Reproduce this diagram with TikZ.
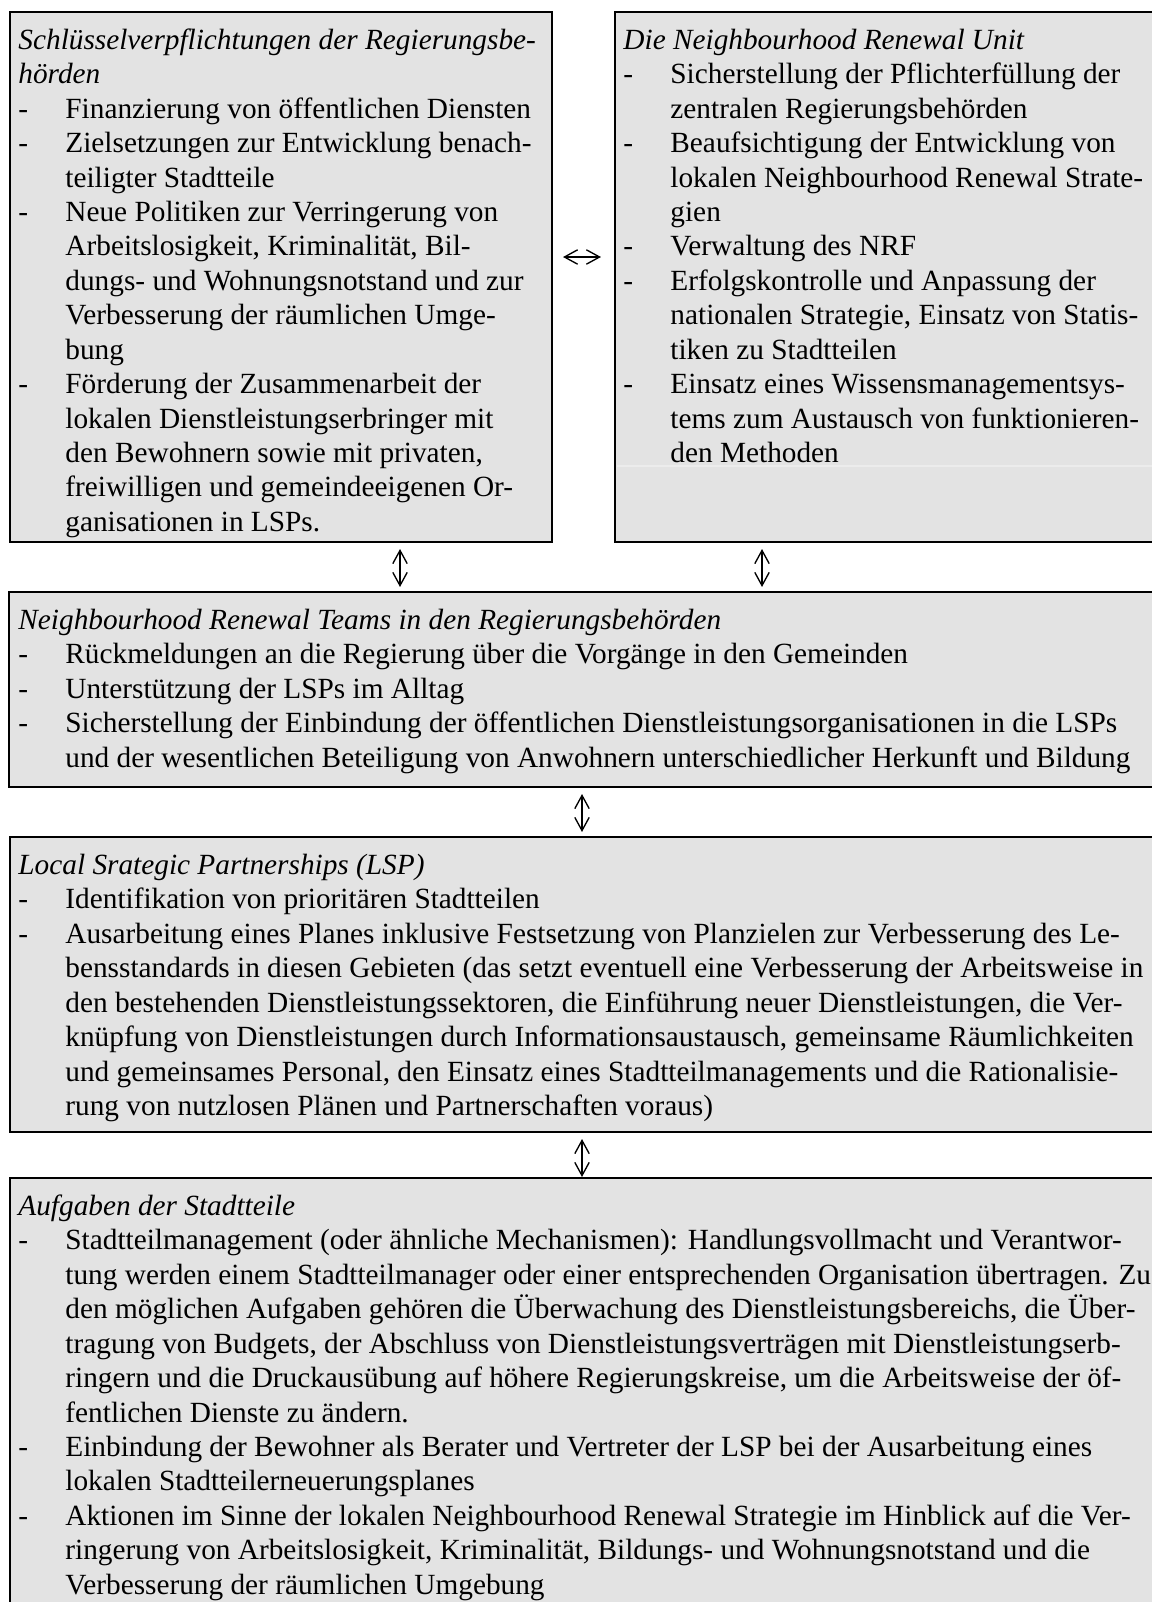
\documentclass[tikz,border=0pt]{standalone}
\usepackage{fontspec}
\setmainfont{Liberation Serif}
\usetikzlibrary{arrows.meta,fit,calc}
\definecolor{boxgray}{HTML}{E3E3E3}
\definecolor{seamgray}{HTML}{ECECEC}
\newcommand\dsh{\makebox[19.25pt][l]{-}}
\newcommand\ind{\hspace*{19.25pt}}
\begin{document}
\begin{tikzpicture}[x=0.4096pt,y=-0.4096pt,
  box/.style={draw=black, line width=0.85pt, fill=boxgray, inner sep=0pt},
  txt/.style={anchor=north west, inner sep=0pt, align=left, font=\fontsize{12pt}{14.1pt}\selectfont},
  arr/.style={{Straight Barb[length=5.4pt,width=5.9pt]}-{Straight Barb[length=5.4pt,width=5.9pt]}, line width=0.55pt}]
\useasboundingbox (0,0) rectangle (1152,1602);
\clip (0,0) rectangle (1152,1602);

\node[box, fit={(10,12) (552,542)}] (A) {};
\node[box, fit={(615,12) (1160,542)}] (B) {};
\node[box, fit={(9,592) (1160,787)}] (C) {};
\node[box, fit={(10,837) (1160,1132)}] (D) {};
\node[box, fit={(10,1178) (1160,1612)}] (E) {};

\draw[seamgray, line width=0.5pt] (617,466) -- (1152,466);

\node[txt] (At) at ($(A.north west)+(9,13.9)$) {\strut\textit{Schlüsselverpflichtungen der Regierungsbe-}\\
\textit{hörden}\\
\dsh Finanzierung von öffentlichen Diensten\\
\dsh Zielsetzungen zur Entwicklung benach-\\
\ind teiligter Stadtteile\\
\dsh Neue Politiken zur Verringerung von\\
\ind Arbeitslosigkeit, Kriminalität, Bil-\\
\ind dungs- und Wohnungsnotstand und zur\\
\ind Verbesserung der räumlichen Umge-\\
\ind bung\\
\dsh Förderung der Zusammenarbeit der\\
\ind lokalen Dienstleistungserbringer mit\\
\ind den Bewohnern sowie mit privaten,\\
\ind freiwilligen und gemeindeeigenen Or-\\
\ind ganisationen in LSPs.};

\node[txt] (Bt) at ($(B.north west)+(9,13.9)$) {\strut\textit{Die Neighbourhood Renewal Unit}\\
\dsh Sicherstellung der Pflichterfüllung der\\
\ind zentralen Regierungsbehörden\\
\dsh Beaufsichtigung der Entwicklung von\\
\ind lokalen Neighbourhood Renewal Strate-\\
\ind gien\\
\dsh Verwaltung des NRF\\
\dsh Erfolgskontrolle und Anpassung der\\
\ind nationalen Strategie, Einsatz von Statis-\\
\ind tiken zu Stadtteilen\\
\dsh Einsatz eines Wissensmanagementsys-\\
\ind tems zum Austausch von funktionieren-\\
\ind den Methoden};

\node[txt] (Ct) at ($(C.north west)+(10,13.9)$) {\strut\textit{Neighbourhood Renewal Teams in den Regierungsbehörden}\\
\dsh Rückmeldungen an die Regierung über die Vorgänge in den Gemeinden\\
\dsh Unterstützung der LSPs im Alltag\\
\dsh Sicherstellung der Einbindung der öffentlichen Dienstleistungsorganisationen in die LSPs\\
\ind und der wesentlichen Beteiligung von Anwohnern unterschiedlicher Herkunft und Bildung};

\node[txt] (Dt) at ($(D.north west)+(9,13.9)$) {\strut\textit{Local Srategic Partnerships (LSP)}\\
\dsh Identifikation von prioritären Stadtteilen\\
\dsh Ausarbeitung eines Planes inklusive Festsetzung von Planzielen zur Verbesserung des Le-\\
\ind bensstandards in diesen Gebieten (das setzt eventuell eine Verbesserung der Arbeitsweise in\\
\ind den bestehenden Dienstleistungssektoren, die Einführung neuer Dienstleistungen, die Ver-\\
\ind knüpfung von Dienstleistungen durch Informationsaustausch, gemeinsame Räumlichkeiten\\
\ind und gemeinsames Personal, den Einsatz eines Stadtteilmanagements und die Rationalisie-\\
\ind rung von nutzlosen Plänen und Partnerschaften voraus)};

\node[txt] (Et) at ($(E.north west)+(9,13.9)$) {\strut\textit{Aufgaben der Stadtteile}\\
\dsh Stadtteilmanagement (oder ähnliche Mechanismen): Handlungsvollmacht und Verantwor-\\
\ind tung werden einem Stadtteilmanager oder einer entsprechenden Organisation übertragen. Zu\\
\ind den möglichen Aufgaben gehören die Überwachung des Dienstleistungsbereichs, die Über-\\
\ind tragung von Budgets, der Abschluss von Dienstleistungsverträgen mit Dienstleistungserb-\\
\ind ringern und die Druckausübung auf höhere Regierungskreise, um die Arbeitsweise der öf-\\
\ind fentlichen Dienste zu ändern.\\
\dsh Einbindung der Bewohner als Berater und Vertreter der LSP bei der Ausarbeitung eines\\
\ind lokalen Stadtteilerneuerungsplanes\\
\dsh Aktionen im Sinne der lokalen Neighbourhood Renewal Strategie im Hinblick auf die Ver-\\
\ind ringerung von Arbeitslosigkeit, Kriminalität, Bildungs- und Wohnungsnotstand und die\\
\ind Verbesserung der räumlichen Umgebung};

\coordinate (hA) at (0,257);
\coordinate (v1) at (400,0);
\coordinate (v2) at (762,0);
\coordinate (v3) at (582,0);
\draw[arr] ($(A.east|-hA)+(10,0)$) -- ($(B.west|-hA)+(-13,0)$);
\draw[arr] ($(A.south-|v1)+(0,6)$) -- ($(C.north-|v1)+(0,-4)$);
\draw[arr] ($(B.south-|v2)+(0,6)$) -- ($(C.north-|v2)+(0,-4)$);
\draw[arr] ($(C.south-|v3)+(0,6)$) -- ($(D.north-|v3)+(0,-4)$);
\draw[arr] ($(D.south-|v3)+(0,6)$) -- (E.north-|v3);
\end{tikzpicture}
\end{document}
